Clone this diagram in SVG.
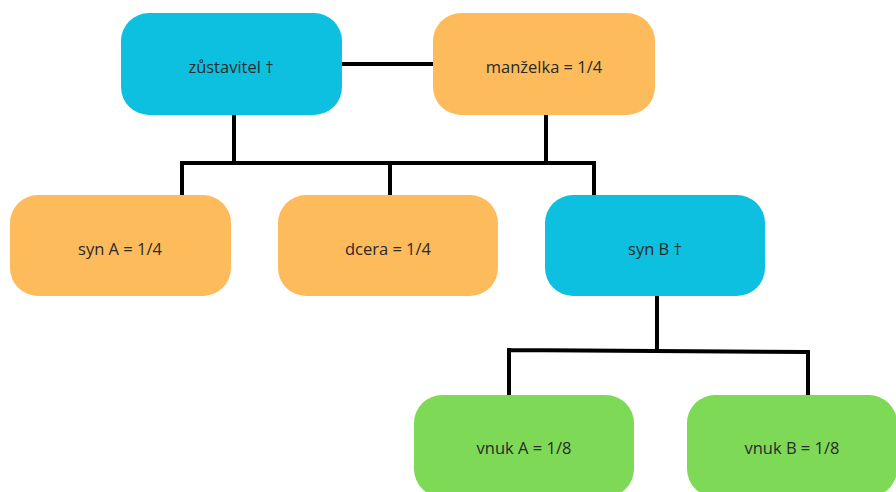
<svg xmlns="http://www.w3.org/2000/svg" width="896" height="492" viewBox="0 0 896 492">
<style>
.box{stroke:none}
.dead{fill:#0DC0DF}
.heir{fill:#FDBB5B}
.grand{fill:#7ED957}
text{font-family:"Open Sans","Noto Sans","Liberation Sans",sans-serif;font-size:16.5px;fill:#2a2a2a;text-anchor:middle;dominant-baseline:central}
.ln{stroke:#000;stroke-width:4;fill:none;stroke-linecap:square}
</style>
<rect width="896" height="492" fill="#fff"/>
<g id="connectors">
<path class="ln" d="M342 64H433"/>
<path class="ln" d="M234 115V163M546 115V163M182 163H594M182 163V194M390 163V194M594 163V194"/>
<path class="ln" d="M657 296V350M509 350L808 352M509 350V394M808 352V394"/>
</g>
<g id="zustavitel"><rect class="box dead" x="121" y="13" width="221" height="102" rx="28"/><text x="231" y="66">zůstavitel †</text></g>
<g id="manzelka"><rect class="box heir" x="433" y="13" width="222" height="102" rx="28"/><text x="544" y="66">manželka = 1/4</text></g>
<g id="synA"><rect class="box heir" x="10" y="195" width="221" height="101" rx="28"/><text x="120" y="248">syn A = 1/4</text></g>
<g id="dcera"><rect class="box heir" x="278" y="195" width="220" height="101" rx="28"/><text x="388" y="248">dcera = 1/4</text></g>
<g id="synB"><rect class="box dead" x="545" y="195" width="220" height="101" rx="28"/><text x="655" y="248">syn B †</text></g>
<g id="vnukA"><rect class="box grand" x="414" y="395" width="220" height="102" rx="28"/><text x="524" y="447">vnuk A = 1/8</text></g>
<g id="vnukB"><rect class="box grand" x="687" y="395" width="210" height="102" rx="28"/><text x="792" y="447">vnuk B = 1/8</text></g>
</svg>
